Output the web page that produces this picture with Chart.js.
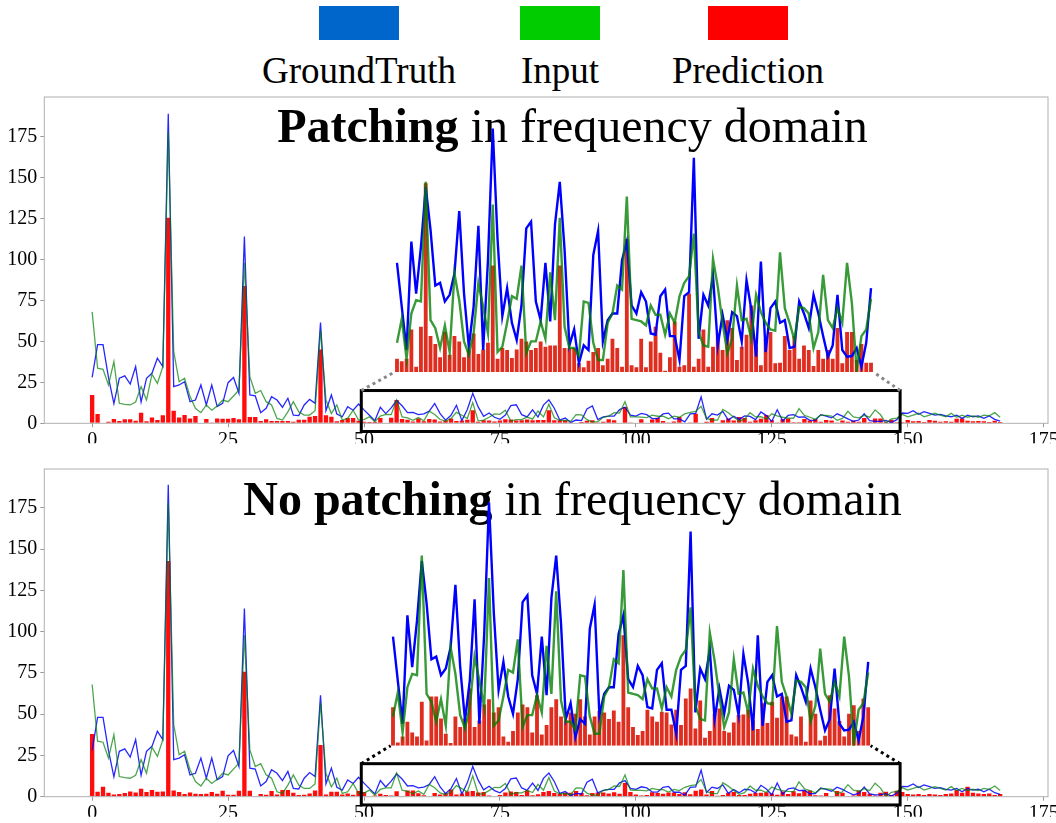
<!DOCTYPE html>
<html>
<head>
<meta charset="utf-8">
<script src="https://cdn.jsdelivr.net/npm/chart.js@4.4.1/dist/chart.umd.min.js"></script>
<style>
  html, body { margin: 0; padding: 0; background: #fff; }
  #page { position: relative; width: 1056px; height: 823px; overflow: hidden;
          font-family: "Liberation Serif", "Times New Roman", serif; color: #000; }
  #page canvas { position: absolute; left: 0; top: 0; }
  .box { position: absolute; top: 6px; width: 80px; height: 34px; }
  .lab { position: absolute; top: 52px; font-size: 37px; line-height: 1; white-space: nowrap; transform: translateX(-50%); }
  .title { position: absolute; left: 572.5px; font-size: 48px; line-height: 1; white-space: nowrap; transform: translateX(-50%); z-index: 2; }
</style>
</head>
<body>
<div id="page">
  <div class="box" style="left:319px;background:#0066cc"></div>
  <div class="box" style="left:520px;background:#00cc00"></div>
  <div class="box" style="left:708px;background:#ff0000"></div>
  <div class="lab" style="left:359px">GroundTruth</div>
  <div class="lab" style="left:560px">Input</div>
  <div class="lab" style="left:748px">Prediction</div>

  <canvas id="main1" width="1056" height="823" style="z-index:1"></canvas>
  <canvas id="main2" width="1056" height="823" style="z-index:1"></canvas>
  <div class="title" style="top:102px"><b>Patching</b> in frequency domain</div>
  <div class="title" style="top:475px"><b>No patching</b> in frequency domain</div>
  <canvas id="inset1" width="1056" height="823" style="z-index:3"></canvas>
  <canvas id="inset2" width="1056" height="823" style="z-index:3"></canvas>
</div>
<script>
// frequency bins
const bins = Array.from({ length: 168 }, (_, i) => i);

const groundTruth = [
  28, 48, 48, 28, 12, 27.5, 29, 24, 34.6, 13, 27.5, 30.5, 39.7, 34.6, 189, 22.4, 23.4, 25.4, 13.2, 14.2,
  23.4, 11.2, 23.4, 10.2, 12.2, 24.8, 28, 18.3, 114, 17.3, 16.7, 6.5, 9.2, 16.3, 14.2, 9.8, 15.3, 5, 4.7, 11.2,
  14.6, 12.2, 61.5, 7.7, 17.3, 5.7, 4, 10.2, 8, 11.8,
  8.2, 4.9, 1.65, 9.8, 5.9, 9.4, 13.9, 10.7, 6.5, 6.7, 5.3, 5.8, 7.4, 12.1, 5.9, 1.9, 4.9, 11, 1.65, 8.4,
  18.3, 10, 4.2, 6.3, 3.7, 2.4, 5, 10.8, 11.3, 5.3, 3.9, 8.2, 3.8, 11.1, 14.3, 9.2, 2, 3.2, 0.65, 2,
  1.65, 8.8, 10.6, 2.3, 3.9, 4.4, 4.4, 8.4, 9.8, 5,
  4.4, 6, 5.3, 2.9, 2.8, 5.7, 6.2, 2.7, 2.7, 0.9, 5.7, 6, 16.1, 2.5, 5.8, 5, 7.2, 2, 4.3, 2.4,
  4.5, 4.2, 2.3, 6.9, 4.7, 1.15, 8.3, 1.5, 4.8, 5.3, 3.7, 3.9, 1.8, 1.9, 5.3, 4.4, 3.3, 5.8, 4.4, 2.7,
  1.15, 2, 5.8, 1.65, 1.15, 1.2, 1.8, 0.4, 2.2, 6.3,
  6.1, 7.7, 5.5, 7.1, 6.1, 5, 5.5, 4.5, 4, 5, 3, 5, 4, 4.5, 3, 4.5, 2.4, 1.4
];

const input = [
  68, 33.6, 33, 23.4, 37.6, 12.2, 11.6, 11.2, 13, 22.4, 14.2, 30, 24.4, 34.6, 178, 43.7, 25.4, 27.5, 16.3, 9.2,
  6.5, 11.2, 8, 10.6, 14.2, 13.2, 16.7, 20.3, 98, 28.5, 18.3, 20, 13.2, 11.2, 3, 2, 7, 13.2, 7, 5,
  5, 7.7, 57, 14.2, 6, 11.2, 2, 3, 8, 2,
  2.2, 4, 1, 4.4, 5.4, 5.3, 14.3, 3.9, 3.3, 1.8, 3.5, 1.5, 7.4, 5.4, 2.3, 1.3, 2.9, 6.7, 4.9, 2.9,
  12.6, 1.5, 1.9, 3.7, 5.7, 5.5, 8, 1.4, 2.3, 2.3, 3.8, 2.5, 7.5, 3.9, 11.6, 3.4, 1.8, 1.8, 1.2, 5.3,
  5.2, 2.2, 0.9, 0.9, 3.7, 4.4, 6.5, 6.2, 13.2, 4,
  3.9, 3.8, 3.5, 5, 4.3, 4.3, 2.8, 4.4, 3.7, 5.7, 6.7, 7.2, 10.4, 3, 2, 1.9, 8.5, 6.4, 3.7, 1.4,
  2.5, 6.5, 3.9, 4, 2.5, 5.8, 4.5, 3.7, 3.2, 3.1, 9, 4.8, 3.7, 2.4, 4.9, 4.8, 4.4, 1.8, 3, 7.3,
  3.9, 3.3, 4.8, 3.7, 8.2, 5.2, 0.15, 2.7, 3.2, 5.5,
  4, 5, 6.1, 4, 5, 6.1, 5, 4, 6.1, 3.7, 5, 3.7, 4.5, 3.7, 5, 4.5, 6.5, 3.7
];

const predPatching = [
  17.3, 5.7, 0.3, 1, 2.6, 1.4, 2.4, 2.4, 1.6, 6.5, 1.2, 3.5, 2, 4.9, 125.5, 7.7, 3.5, 5, 3, 4.5,
  0.4, 2.6, 0.5, 3, 2.8, 2.8, 3.2, 2.4, 83.8, 3.9, 3.9, 1.4, 2.4, 1.4, 1.4, 1.4, 1.4, 1, 2.2, 2.2,
  4, 4.5, 45, 4.9, 4, 1.2, 2, 3.2, 3.2, 1.6,
  1, 0.8, 1, 3.2, 0.4, 3.4, 14.2, 2.7, 2.1, 1.1, 3, 1.3, 2.7, 2.3, 1.1, 1.65, 2.9, 1.35, 1.7, 2.2,
  8, 1, 1.8, 1.65, 1.05, 1.7, 2.5, 2.3, 1.65, 1.8, 2.3, 1.9, 2, 2, 8, 1.8, 1.8, 1.8, 0.65, 0.35,
  0.85, 1.5, 1.8, 0.5, 1, 2.5, 1.8, 0.4, 10, 0.5,
  0.35, 2.5, 0.35, 2.3, 3.4, 1.45, 0.1, 1.1, 3.8, 0.4, 0.5, 5.9, 0.4, 1, 3.2, 0.4, 1.9, 2.9, 1.65, 3.9,
  3.3, 0.9, 1.9, 2.8, 5, 1.9, 0.5, 2.5, 3, 0.65, 0.7, 2.7, 1.65, 2.7, 1, 2, 1.65, 0.45, 1.65, 1,
  1.65, 1, 3.3, 0.65, 3, 3, 0.9, 2.1, 0.7, 0.7,
  2, 1.2, 1.4, 0.8, 2, 1.6, 1, 1.2, 1, 2.8, 3, 1.6, 1.2, 1.4, 1.2, 0.8, 1.6, 0.8
];

const predNoPatching = [
  38, 3, 6, 2.4, 1.4, 1.6, 2.2, 3.2, 2.6, 4.8, 2.8, 4, 3, 3.2, 142.7, 3.8, 2.8, 1.6, 2.6, 1.8,
  1.6, 1.8, 2.8, 1.8, 3.6, 1.2, 1.2, 3.6, 75.7, 3.6, 0.4, 1.6, 1.2, 3.4, 1.4, 4, 4, 2.4, 1, 1.2,
  2, 3.8, 31.3, 1.4, 3, 3, 1.4, 2, 1.2, 3.4,
  2.9, 0.25, 0.7, 1.8, 1, 0.7, 3.3, 0.4, 3.7, 3.7, 2.05, 0.9, 0.2, 2.2, 1.4, 2.05, 4.3, 1.4, 1.9, 3.1,
  3.5, 2.5, 2.9, 0.7, 0.3, 1.1, 2.5, 3.1, 2.9, 1, 3.8, 0.85, 1.55, 2.9, 3.5, 2.2, 1.9, 2.5, 2.4, 3.5,
  2.2, 0.85, 2.2, 2.6, 2.5, 2, 2.65, 1.8, 8.3, 2.9,
  1.4, 0.8, 1.1, 2.7, 2.2, 1.8, 2.55, 2.5, 1.6, 2.7, 1.55, 3.55, 4.3, 1.3, 3.4, 0.6, 1.1, 2.4, 2.8, 1.1,
  1, 1.75, 2.3, 2.35, 2.7, 1.9, 1.25, 3.2, 1.7, 3.3, 2.1, 3.7, 3.7, 0.85, 0.7, 2.2, 0.3, 3.4, 2.4, 0.4,
  0.75, 3.8, 2.8, 1.85, 0.7, 2.4, 3.05, 1.1, 3.55, 2.9,
  1.6, 1.4, 1.6, 1, 1.6, 1.4, 1, 1.6, 2, 4, 2.4, 6, 2.4, 2, 1.6, 2, 1, 1.6
];

const xTicks = [0, 25, 50, 75, 100, 125, 150, 175];
const yTicks = [0, 25, 50, 75, 100, 125, 150, 175];

// part of the spectrum shown magnified in the inset
const zoomFrom = 50, zoomTo = 150;
const zoomBox = { x0: 49.5, x1: 148.6, y0: -5, y1: 20 };

const serif = "'Liberation Serif', 'Times New Roman', serif";

function pts(arr, from, to) {
  return arr.slice(from, to).map((v, k) => ({ x: bins[from + k], y: v }));
}

const framePlugin = {
  id: 'frame',
  afterDraw(c) {
    const { ctx, chartArea: a, scales } = c;
    ctx.save();
    ctx.strokeStyle = '#b0b0b0';
    ctx.lineWidth = 1;
    ctx.strokeRect(a.left, a.top, a.right - a.left, a.bottom - a.top);
    // zoom rectangle
    const x0 = scales.x.getPixelForValue(zoomBox.x0), x1 = scales.x.getPixelForValue(zoomBox.x1);
    const y0 = scales.y.getPixelForValue(zoomBox.y0), y1 = scales.y.getPixelForValue(zoomBox.y1);
    ctx.strokeStyle = '#000';
    ctx.lineWidth = 3;
    ctx.strokeRect(x0, y1, x1 - x0, y0 - y1);
    ctx.restore();
  }
};

function mainChart(id, pred, pad, yMax) {
  return new Chart(document.getElementById(id), {
    type: 'bar',
    data: {
      datasets: [
        { type: 'line', label: 'Input', data: pts(input, 0, bins.length),
          borderColor: 'rgba(0,128,0,0.7)', borderWidth: 1.3, pointRadius: 0, order: 1 },
        { type: 'line', label: 'GroundTruth', data: pts(groundTruth, 0, bins.length),
          borderColor: 'rgba(0,0,255,0.85)', borderWidth: 1.3, pointRadius: 0, order: 2 },
        { type: 'bar', label: 'Prediction', data: pts(pred, 0, bins.length),
          backgroundColor: 'rgba(255,0,0,0.95)', barPercentage: 0.8, categoryPercentage: 1, order: 3 }
      ]
    },
    options: {
      responsive: false,
      animation: false,
      devicePixelRatio: 1,
      layout: { autoPadding: false, padding: pad },
      plugins: { legend: { display: false }, tooltip: { enabled: false } },
      scales: {
        x: {
          type: 'linear', min: -8.8, max: 175.8, offset: false,
          grid: { display: true, offset: false, drawOnChartArea: false, drawTicks: true, tickLength: 4, color: '#999' },
          border: { display: false },
          ticks: { color: '#000', font: { family: serif, size: 20 }, padding: 1, maxRotation: 0 },
          afterBuildTicks: s => { s.ticks = xTicks.map(v => ({ value: v })); },
          afterFit: s => { s.height = 20; s.paddingLeft = 0; s.paddingRight = 0; }
        },
        y: {
          min: 0, max: yMax,
          grid: { display: true, drawOnChartArea: false, drawTicks: true, tickLength: 4, color: '#999' },
          border: { display: false },
          ticks: { color: '#000', font: { family: serif, size: 20 }, padding: 3 },
          afterBuildTicks: s => { s.ticks = yTicks.map(v => ({ value: v })); },
          afterFit: s => { s.width = 44.3; s.paddingTop = 0; s.paddingBottom = 0; }
        }
      }
    },
    plugins: [framePlugin]
  });
}

function insetChart(id, pred, pad, main, dotColor) {
  return new Chart(document.getElementById(id), {
    type: 'bar',
    data: {
      datasets: [
        { type: 'line', label: 'Input', data: pts(input, zoomFrom, zoomTo),
          borderColor: 'rgba(0,125,0,0.78)', borderWidth: 2.4, pointRadius: 0, order: 1 },
        { type: 'line', label: 'GroundTruth', data: pts(groundTruth, zoomFrom, zoomTo),
          borderColor: '#0000ff', borderWidth: 2.4, pointRadius: 0, order: 2 },
        { type: 'bar', label: 'Prediction', data: pts(pred, zoomFrom, zoomTo),
          backgroundColor: 'rgba(221,34,20,0.95)', barPercentage: 0.8, categoryPercentage: 1, order: 3 }
      ]
    },
    options: {
      responsive: false,
      animation: false,
      devicePixelRatio: 1,
      layout: { autoPadding: false, padding: pad },
      plugins: { legend: { display: false }, tooltip: { enabled: false } },
      scales: {
        x: { type: 'linear', display: false, min: zoomFrom - 0.5, max: zoomTo - 0.5, offset: false },
        y: { display: false, min: 0, max: 20 }
      }
    },
    plugins: [{
      id: 'connect',
      afterDraw(c) {
        const { ctx, chartArea: a } = c;
        const mx = main.scales.x, my = main.scales.y;
        ctx.save();
        ctx.strokeStyle = dotColor;
        ctx.lineWidth = 3;
        ctx.setLineDash([3, 3.5]);
        ctx.beginPath();
        ctx.moveTo(mx.getPixelForValue(zoomBox.x0), my.getPixelForValue(zoomBox.y1));
        ctx.lineTo(a.left, a.bottom);
        ctx.moveTo(mx.getPixelForValue(zoomBox.x1), my.getPixelForValue(zoomBox.y1));
        ctx.lineTo(a.right, a.bottom);
        ctx.stroke();
        ctx.restore();
      }
    }]
  });
}

const main1 = mainChart('main1', predPatching, { left: 0, right: 8, top: 97, bottom: 379.7 }, 199.2);
const main2 = mainChart('main2', predNoPatching, { left: 0, right: 8, top: 469, bottom: 6.3 }, 198.5);
insetChart('inset1', predPatching, { left: 394.6, right: 182.6, top: 106, bottom: 451 }, main1, '#888888');
insetChart('inset2', predNoPatching, { left: 390.6, right: 185.4, top: 479.7, bottom: 77.3 }, main2, '#000000');
</script>
</body>
</html>
